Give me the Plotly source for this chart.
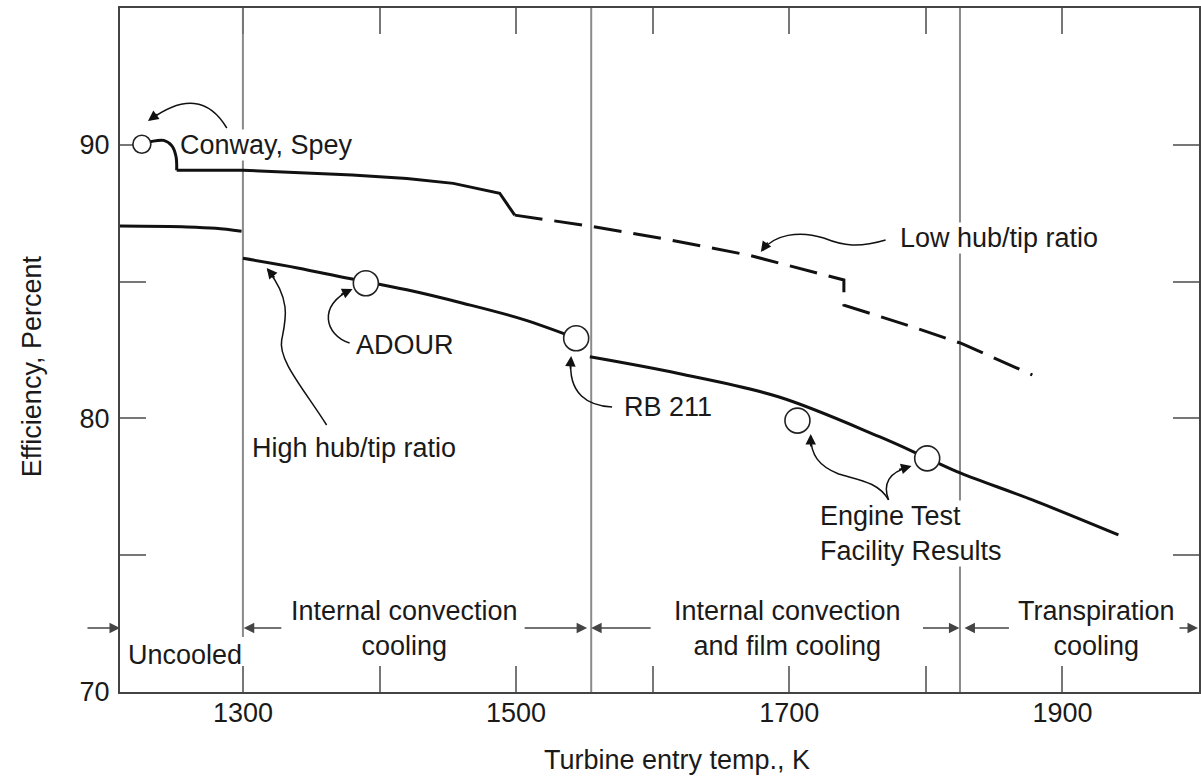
import plotly.graph_objects as go

# ------------------------- data -------------------------
# Lower curve (High hub/tip ratio), three cooling regimes
uncooled_T = [1210, 1259, 1280, 1299]
uncooled_eff = [87.03, 87.0, 86.95, 86.84]

conv_T = [1300, 1340, 1376, 1420, 1461, 1505, 1544]
conv_eff = [85.85, 85.5, 85.13, 84.7, 84.21, 83.62, 82.93]

film_T = [1554, 1619, 1692, 1766, 1801, 1826, 1878, 1941]
film_eff = [82.25, 81.64, 80.79, 79.33, 78.55, 77.99, 77.02, 75.74]

# Upper curve (Low hub/tip ratio): Conway/Spey hook, solid part and dashed projection
hook_T = [1226, 1233, 1242, 1248, 1251, 1251.5]
hook_eff = [90.02, 90.12, 90.16, 89.96, 89.57, 89.07]

low_solid_T = [1251.5, 1300, 1380, 1420, 1454, 1488, 1499]
low_solid_eff = [89.07, 89.07, 88.90, 88.77, 88.59, 88.23, 87.43]

low_dash_T = [1499, 1554, 1610, 1670, 1740, 1740, 1790, 1826, 1878]
low_dash_eff = [87.43, 87.03, 86.55, 85.97, 85.06, 84.14, 83.35, 82.74, 81.59]

# Engine data points
conway_T = [1226]
conway_eff = [90.02]
engine_names = ["ADOUR", "RB 211", "Engine Test 1", "Engine Test 2"]
engine_T = [1390, 1544, 1706, 1801]
engine_eff = [84.94, 82.93, 79.92, 78.54]

# Cooling regime boundaries and labels
boundary_T = [1300, 1555, 1825]
region_labels = ["Uncooled", "Internal convection<br>cooling",
                 "Internal convection<br>and film cooling", "Transpiration<br>cooling"]

x_ticks = [1300, 1400, 1500, 1600, 1700, 1800, 1900]
x_tick_text = ["1300", "", "1500", "", "1700", "", "1900"]
y_ticks = [70, 75, 80, 85, 90]
y_tick_text = ["70", "", "80", "", "90"]

X_RANGE = [1210, 2000]
Y_RANGE = [70, 95]

# ------------------------- layout helpers -------------------------
W, H = 1201, 780
ML, MR, MT, MB = 120, 0, 8, 88
PW, PH = W - ML - MR, H - MT - MB


def X(px):
    return X_RANGE[0] + (px - ML) * (X_RANGE[1] - X_RANGE[0]) / PW


def Y(py):
    return Y_RANGE[0] + (MT + PH - py) * (Y_RANGE[1] - Y_RANGE[0]) / PH


FONT = "Liberation Sans, Arial, Helvetica, sans-serif"
TXT = "#1a1a1a"
FS = 27

fig = go.Figure()

line_style = dict(color="#111", width=3)
smooth = dict(color="#111", width=3, shape="spline", smoothing=1.0)
fig.add_trace(go.Scatter(x=uncooled_T, y=uncooled_eff, mode="lines", line=smooth,
                         showlegend=False, hoverinfo="skip"))
fig.add_trace(go.Scatter(x=conv_T, y=conv_eff, mode="lines", line=smooth,
                         showlegend=False, hoverinfo="skip"))
fig.add_trace(go.Scatter(x=film_T, y=film_eff, mode="lines", line=smooth,
                         showlegend=False, hoverinfo="skip"))
fig.add_trace(go.Scatter(x=hook_T, y=hook_eff, mode="lines", line=smooth,
                         showlegend=False, hoverinfo="skip"))
fig.add_trace(go.Scatter(x=low_solid_T, y=low_solid_eff, mode="lines", line=line_style,
                         showlegend=False, hoverinfo="skip"))
fig.add_trace(go.Scatter(x=low_dash_T, y=low_dash_eff, mode="lines",
                         line=dict(color="#111", width=3, dash="28px,12px"),
                         showlegend=False, hoverinfo="skip"))
fig.add_trace(go.Scatter(x=conway_T, y=conway_eff, mode="markers",
                         marker=dict(size=18, color="white", line=dict(color="#222", width=1.6)),
                         showlegend=False, hoverinfo="skip"))
fig.add_trace(go.Scatter(x=engine_T, y=engine_eff, mode="markers", text=engine_names,
                         marker=dict(size=25, color="white", line=dict(color="#222", width=1.6)),
                         showlegend=False, hoverinfo="skip"))

shapes = []
# regime boundary lines
for i, bt in enumerate(boundary_T):
    y0 = Y(637) if i == 0 else Y_RANGE[0]
    shapes.append(dict(type="line", xref="x", yref="y", x0=bt, x1=bt, y0=y0, y1=Y_RANGE[1],
                       line=dict(color="#8a8a8a", width=2), layer="below"))


def path_px(cmds):
    """cmds: list of (letter, [(px,py),...]) -> svg path string in data coords"""
    out = []
    for c, pts in cmds:
        out.append(c + " " + " ".join(f"{X(px):.3f},{Y(py):.4f}" for px, py in pts))
    return " ".join(out)


curved_arrows = [
    # (path commands, tip px, tail offset for arrowhead)
    ([("M", [(227, 128)]), ("Q", [(200, 83), (150, 120)])], (148, 121), (11, -8)),
    ([("M", [(887, 240)]), ("C", [(860, 248), (845, 246), (825, 238)]),
      ("C", [(800, 230), (775, 235), (764, 250)])], (762, 252), (8, -11)),
    ([("M", [(350, 343)]), ("C", [(325, 335), (318, 305), (351, 290)])], (353, 289), (-13, 6)),
    ([("M", [(613, 407)]), ("C", [(590, 406), (568, 395), (572, 358)])], (572, 356), (-1, 14)),
    ([("M", [(327, 425)]), ("C", [(305, 390), (278, 360), (282, 340)]),
      ("C", [(286, 320), (292, 300), (268, 270)])], (267, 268), (9, 11)),
    ([("M", [(890, 500)]), ("C", [(880, 482), (860, 480), (840, 474)]),
      ("C", [(820, 466), (812, 455), (812, 436)])], (812, 434), (0, 14)),
    ([("M", [(890, 500)]), ("C", [(884, 484), (890, 472), (911, 467)])], (913, 466), (-14, 4)),
]
annotations = []
for cmds, tip, off in curved_arrows:
    shapes.append(dict(type="path", xref="x", yref="y", path=path_px(cmds),
                       line=dict(color="#111", width=1.5)))
    annotations.append(dict(x=X(tip[0]), y=Y(tip[1]), xref="x", yref="y", text="",
                            showarrow=True, ax=off[0], ay=off[1], arrowhead=2,
                            arrowsize=1.4, arrowwidth=1.5, arrowcolor="#111", standoff=0))

# straight region arrows (tip px, tail offset px)
arrow_y = Y(628)
region_arrows = [(120, -34), (244, 39), (588, -64), (592, 61), (961, -38), (966, 46), (1200, -20)]
for tip, off in region_arrows:
    annotations.append(dict(x=X(tip), y=arrow_y, xref="x", yref="y", text="", showarrow=True,
                            ax=off, ay=0, arrowhead=2, arrowsize=1.4, arrowwidth=1.5,
                            arrowcolor="#444", standoff=0))

font = dict(family=FONT, size=FS, color=TXT)


def label(text, px, py, xanchor="left", bg=None, align="left"):
    d = dict(x=X(px), y=Y(py), xref="x", yref="y", text=text, showarrow=False,
             xanchor=xanchor, yanchor="middle", font=font, align=align, borderpad=0)
    if bg:
        d["bgcolor"] = bg
    annotations.append(d)


label("Conway, Spey", 179, 145, bg="white")
label("Low hub/tip ratio", 900, 238, bg="white")
label("ADOUR", 355, 345)
label("RB 211", 624, 407)
label("High hub/tip ratio", 251, 448)
label("Engine Test<br>Facility Results", 820, 533, bg="white")

# regime labels
label(region_labels[0], 127, 655)
label(region_labels[1], 405, 628, xanchor="center", align="center")
label(region_labels[2], 789, 628, xanchor="center", align="center")
label(region_labels[3], 1098, 628, xanchor="center", align="center")

# axis titles
annotations.append(dict(x=(678 - ML) / PW, y=(MT + PH - 760) / PH, xref="paper", yref="paper",
                        text="Turbine entry temp., K", showarrow=False, font=font,
                        xanchor="center", yanchor="middle"))
annotations.append(dict(x=(32 - ML) / PW, y=(MT + PH - 366) / PH, xref="paper", yref="paper",
                        text="Efficiency, Percent", showarrow=False, font=font, textangle=-90,
                        xanchor="center", yanchor="middle"))

axis_common = dict(showgrid=False, zeroline=False, showline=True, linecolor="#444", linewidth=2,
                   mirror="ticks", ticks="inside", ticklen=26, tickwidth=2, tickcolor="#777",
                   layer="below traces",
                   tickfont=dict(family=FONT, size=FS, color=TXT))

fig.update_layout(
    width=W, height=H,
    margin=dict(l=ML, r=MR, t=MT, b=MB),
    paper_bgcolor="white", plot_bgcolor="white",
    xaxis=dict(range=X_RANGE, tickvals=x_ticks, ticktext=x_tick_text, ticklabelstandoff=-4,
               **axis_common),
    yaxis=dict(range=Y_RANGE, tickvals=y_ticks, ticktext=y_tick_text, ticklabelstandoff=3,
               **axis_common),
    shapes=shapes, annotations=annotations,
    showlegend=False,
)

fig.write_html("out.html")
